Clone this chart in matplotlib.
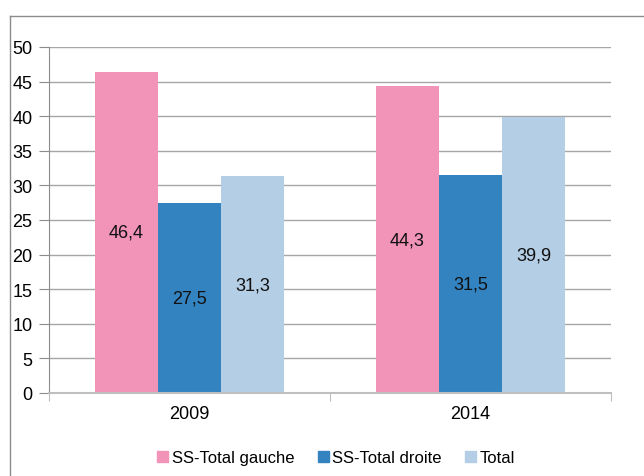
import matplotlib
matplotlib.use("Agg")
import matplotlib.pyplot as plt
from matplotlib.lines import Line2D
from matplotlib.patches import Patch
import numpy as np

categories = ["2009", "2014"]
series_names = ["SS-Total gauche", "SS-Total droite", "Total"]
gauche = [46.4, 44.3]
droite = [27.5, 31.5]
total = [31.3, 39.9]
colors = ["#F294B8", "#3383C1", "#B4CEE6"]

plt.rcParams['font.family'] = ['Liberation Sans', 'DejaVu Sans']

fig = plt.figure(figsize=(6.44, 4.77), dpi=100)
ax = fig.add_axes([49/644, 1-394/477, (611-49)/644, (394-48)/477])

x = np.arange(len(categories))
w = 0.224
values = [gauche, droite, total]
for i, (vals, col, name) in enumerate(zip(values, colors, series_names)):
    bars = ax.bar(x + (i-1)*w, vals, width=w, color=col, label=name, zorder=2)
    for b, v in zip(bars, vals):
        ax.text(b.get_x()+b.get_width()/2, v/2, f"{v:.1f}".replace('.', ','),
                ha='center', va='center', fontsize=13, color='#111111', zorder=3)

ax.set_xlim(-0.5, 1.5)
ax.set_ylim(0, 50)
ax.set_yticks(range(0, 51, 5))
ax.yaxis.grid(True, color='#A6A6A6', linewidth=1, zorder=0)
ax.set_axisbelow(True)
for s in ['top', 'right']:
    ax.spines[s].set_visible(False)
ax.spines['left'].set_color('#8C8C8C')
ax.spines['bottom'].set_color('#BFBFBF')
ax.spines['bottom'].set_linewidth(1.5)
ax.tick_params(axis='y', length=7, color='#8C8C8C', labelsize=13, pad=5)
ax.set_xticks([-0.5, 0.5, 1.5])
ax.set_xticklabels([])
ax.set_xticks(x, minor=True)
ax.set_xticklabels(categories, minor=True)
ax.tick_params(axis='x', which='major', length=6, color='#BFBFBF')
ax.tick_params(axis='x', which='minor', length=0, labelsize=13, pad=9)

handles = [Patch(color=c, label=n) for c, n in zip(colors, series_names)]
fig.legend(handles=handles, loc='center', bbox_to_anchor=(336/644, 1-459/477),
           ncol=3, frameon=False, fontsize=12, handlelength=0.66, handleheight=0.66,
           handletextpad=0.2, columnspacing=1.4, borderpad=0, borderaxespad=0)

fig.add_artist(Line2D([9.5/644, 9.5/644], [0, 1-17/477], color='#8C8C8C', linewidth=1, transform=fig.transFigure))
fig.add_artist(Line2D([9.5/644, 1], [1-17/477, 1-17/477], color='#8C8C8C', linewidth=1, transform=fig.transFigure))

fig.savefig("out.png", dpi=100)
